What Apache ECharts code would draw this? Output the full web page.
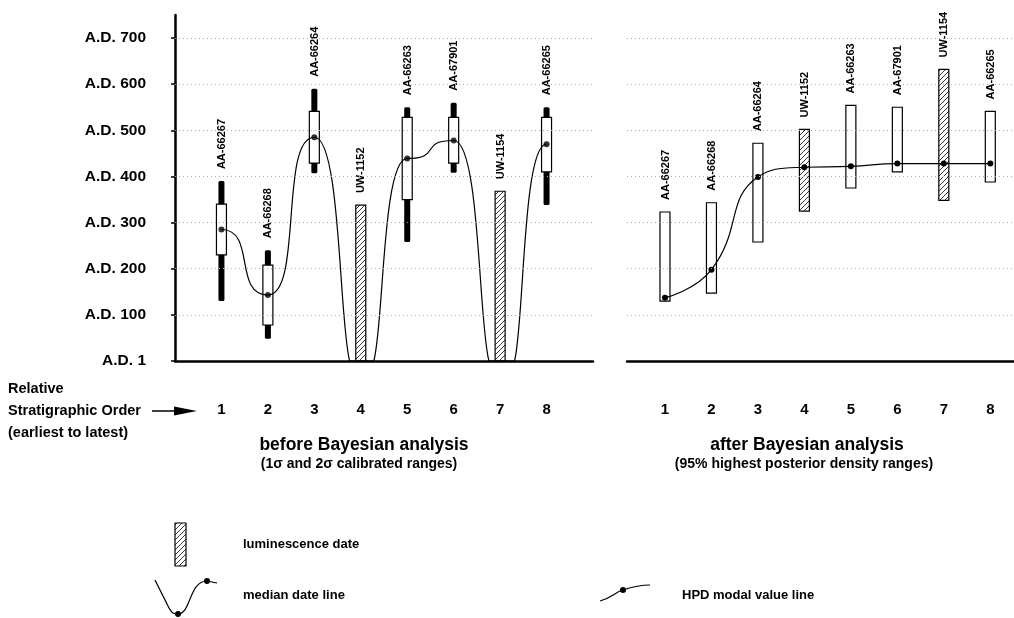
<!DOCTYPE html>
<html>
<head>
<meta charset="utf-8">
<script src="https://cdn.jsdelivr.net/npm/echarts@6/dist/echarts.min.js"></script>
<style>
html, body { margin: 0; padding: 0; background: #fff; }
#chart { width: 1014px; height: 618px; }
</style>
</head>
<body>
<div id="chart"></div>
<script>
// samples in stratigraphic order (earliest to latest)
var sampleNames = ['AA-66267', 'AA-66268', 'AA-66264', 'UW-1152', 'AA-66263', 'AA-67901', 'UW-1154', 'AA-66265'];
var orderLabels = ['1', '2', '3', '4', '5', '6', '7', '8'];
var isLuminescence = [false, false, false, true, false, false, true, false];
var yTickValues = [0, 100, 200, 300, 400, 500, 600, 700];
var yTickLabels = ['A.D. 1', 'A.D. 100', 'A.D. 200', 'A.D. 300', 'A.D. 400', 'A.D. 500', 'A.D. 600', 'A.D. 700'];

// before Bayesian analysis: 2 sigma (thick bar) and 1 sigma (box) calibrated ranges
var before2Lo = [130, 48, 407, null, 258, 408, null, 338];
var before2Hi = [390, 240, 590, null, 550, 560, null, 550];
var before1Lo = [230, 78, 429, null, 350, 429, null, 410];
var before1Hi = [340, 208, 541, null, 528, 528, null, 528];
var lumBeforeHi = [null, null, null, 338, null, null, 368, null];
var beforeMedian = [285, 143, 485, null, 439, 478, null, 470];
// median date line, with the points where it drops to the axis (value 0)
var medianLineX = [1, 2, 3, 3.76, 4.28, 5, 6, 6.76, 7.31, 8];
var medianLineY = [285, 143, 485, 0, 0, 439, 478, 0, 0, 470];

// after Bayesian analysis: 95% HPD ranges and modal values
var afterLo = [130, 147, 258, 325, 375, 410, 348, 388];
var afterHi = [323, 343, 472, 502, 554, 550, 632, 541];
var afterMode = [137, 198, 399, 420, 422, 428, 428, 428];

var FONT = '"Liberation Sans", Arial, Helvetica, sans-serif';

// diagonal hatching for luminescence dates
var hatch = document.createElement('canvas');
hatch.width = 5;
hatch.height = 5;
var hctx = hatch.getContext('2d');
hctx.strokeStyle = '#222';
hctx.lineWidth = 0.9;
hctx.beginPath();
hctx.moveTo(0, 5); hctx.lineTo(5, 0);
hctx.moveTo(-1, 1); hctx.lineTo(1, -1);
hctx.moveTo(4, 6); hctx.lineTo(6, 4);
hctx.stroke();
var hatchFill = {image: hatch, repeat: 'repeat'};

function sampleLabel(name, pt) {
    return {
        type: 'text',
        x: pt[0] + 0.5,
        y: pt[1] - 12,
        rotation: Math.PI / 2,
        style: {
            text: name,
            fill: '#000',
            font: 'bold 11px ' + FONT,
            align: 'left',
            verticalAlign: 'middle'
        }
    };
}

function renderBefore(params, api) {
    var i = params.dataIndex;
    var x = api.value(0);
    var children = [];
    var top;
    if (isLuminescence[i]) {
        top = api.coord([x, lumBeforeHi[i]]);
        var base = api.coord([x, 0]);
        children.push({
            type: 'rect',
            shape: {x: top[0] - 5, y: top[1], width: 10, height: base[1] - top[1]},
            style: {fill: hatchFill, stroke: '#000', lineWidth: 1.2}
        });
    } else {
        top = api.coord([x, before2Hi[i]]);
        var lo2 = api.coord([x, before2Lo[i]]);
        var hi1 = api.coord([x, before1Hi[i]]);
        var lo1 = api.coord([x, before1Lo[i]]);
        children.push({
            type: 'rect',
            shape: {x: top[0] - 3, y: top[1], width: 6, height: lo2[1] - top[1], r: 1.5},
            style: {fill: '#000'}
        });
        children.push({
            type: 'rect',
            shape: {x: hi1[0] - 5, y: hi1[1], width: 10, height: lo1[1] - hi1[1]},
            style: {fill: '#fff', stroke: '#000', lineWidth: 1.2}
        });
    }
    children.push(sampleLabel(sampleNames[i], top));
    return {type: 'group', children: children};
}

// median line: flat tangent at each median, steep where it meets the axis
function medianSlope(i, api) {
    if (medianLineY[i] !== 0) return 0;
    var a = api.coord([medianLineX[i - 1], medianLineY[i - 1]]);
    var b = api.coord([medianLineX[i + 1], medianLineY[i + 1]]);
    return (b[1] - a[1]) / (b[0] - a[0]);
}

function renderMedianSeg(params, api) {
    var i = params.dataIndex;
    var p0 = api.coord([medianLineX[i], medianLineY[i]]);
    var p1 = api.coord([medianLineX[i + 1], medianLineY[i + 1]]);
    var style = {fill: 'none', stroke: '#000', lineWidth: 1.2};
    if (medianLineY[i] === 0 && medianLineY[i + 1] === 0) {
        return {type: 'line', shape: {x1: p0[0], y1: p0[1], x2: p1[0], y2: p1[1]}, style: style};
    }
    var dx = p1[0] - p0[0];
    var s0 = medianSlope(i, api);
    var s1 = medianSlope(i + 1, api);
    var d0 = dx * (s0 === 0 ? 0.75 : 0.3);
    var d1 = dx * (s1 === 0 ? 0.75 : 0.3);
    return {
        type: 'bezierCurve',
        shape: {
            x1: p0[0], y1: p0[1],
            cpx1: p0[0] + d0, cpy1: p0[1] + s0 * d0,
            cpx2: p1[0] - d1, cpy2: p1[1] - s1 * d1,
            x2: p1[0], y2: p1[1]
        },
        style: style
    };
}

function renderAfter(params, api) {
    var i = params.dataIndex;
    var x = api.value(0);
    var hi = api.coord([x, afterHi[i]]);
    var lo = api.coord([x, afterLo[i]]);
    return {
        type: 'group',
        children: [{
            type: 'rect',
            shape: {x: hi[0] - 5, y: hi[1], width: 10, height: lo[1] - hi[1]},
            style: {fill: isLuminescence[i] ? hatchFill : '#fff', stroke: '#000', lineWidth: 1.2}
        }, sampleLabel(sampleNames[i], hi)]
    };
}

var gridLines = yTickValues.slice(1).map(function (v) { return {yAxis: v}; });
var gridLineMark = {
    silent: true,
    symbol: ['none', 'none'],
    label: {show: false},
    lineStyle: {type: [1, 3], color: '#a8a8a8', width: 1},
    data: gridLines
};

var orderX = orderLabels.map(function (l, i) { return i + 1; });

var myChart = echarts.init(document.getElementById('chart'), null, {renderer: 'canvas'});

function textEl(x, y, text, font, align) {
    return {
        type: 'text', x: x, y: y,
        style: {text: text, font: font, fill: '#000', align: align || 'left', verticalAlign: 'middle'}
    };
}

var option = {
    animation: false,
    backgroundColor: '#fff',
    grid: [
        {left: 175, top: 15, width: 418, height: 346},
        {left: 627, top: 15, width: 387, height: 346}
    ],
    xAxis: [{
        gridIndex: 0,
        type: 'value',
        min: 0,
        max: 9,
        axisLine: {lineStyle: {color: '#000', width: 2.5}},
        axisTick: {show: false},
        splitLine: {show: false},
        axisLabel: {
            customValues: orderX,
            formatter: function (v) { return orderLabels[v - 1]; },
            margin: 41,
            color: '#000',
            fontFamily: FONT,
            fontWeight: 'bold',
            fontSize: 15
        }
    }, {
        gridIndex: 1,
        type: 'value',
        min: 0.183,
        max: 8.51,
        axisLine: {lineStyle: {color: '#000', width: 2.5}},
        axisTick: {show: false},
        splitLine: {show: false},
        axisLabel: {
            customValues: orderX,
            formatter: function (v) { return orderLabels[v - 1]; },
            margin: 41,
            color: '#000',
            fontFamily: FONT,
            fontWeight: 'bold',
            fontSize: 15
        }
    }],
    yAxis: [{
        gridIndex: 0,
        type: 'value',
        min: 0,
        max: 750,
        axisLine: {show: true, lineStyle: {color: '#000', width: 2.5}},
        axisTick: {show: true, customValues: yTickValues, length: 4, lineStyle: {color: '#000', width: 1.5}},
        splitLine: {show: false},
        axisLabel: {
            customValues: yTickValues,
            formatter: function (v) { return yTickLabels[yTickValues.indexOf(v)]; },
            margin: 29,
            color: '#000',
            fontFamily: FONT,
            fontWeight: 'bold',
            fontSize: 15.5
        }
    }, {
        gridIndex: 1,
        type: 'value',
        min: 0,
        max: 750,
        axisLine: {show: false},
        axisTick: {show: false},
        axisLabel: {show: false},
        splitLine: {show: false}
    }],
    series: [{
        // before: ranges, luminescence bars and labels
        type: 'custom',
        xAxisIndex: 0,
        yAxisIndex: 0,
        renderItem: renderBefore,
        data: orderX.map(function (x) { return [x]; }),
        markLine: gridLineMark,
        z: 3
    }, {
        type: 'custom',
        xAxisIndex: 0,
        yAxisIndex: 0,
        renderItem: renderMedianSeg,
        encode: {x: [0, 2], y: [1, 3]},
        data: medianLineX.slice(0, -1).map(function (x, i) {
            return [x, medianLineY[i], medianLineX[i + 1], medianLineY[i + 1]];
        }),
        z: 4
    }, {
        type: 'scatter',
        xAxisIndex: 0,
        yAxisIndex: 0,
        data: beforeMedian.map(function (v, i) { return v === null ? null : [i + 1, v]; }).filter(Boolean),
        symbol: 'circle',
        symbolSize: 6,
        itemStyle: {color: '#000'},
        z: 5
    }, {
        // after: HPD ranges
        type: 'custom',
        xAxisIndex: 1,
        yAxisIndex: 1,
        renderItem: renderAfter,
        data: orderX.map(function (x) { return [x]; }),
        markLine: gridLineMark,
        z: 3
    }, {
        type: 'line',
        xAxisIndex: 1,
        yAxisIndex: 1,
        data: afterMode.map(function (v, i) { return [i + 1, v]; }),
        smooth: 0.5,
        symbol: 'circle',
        symbolSize: 6,
        itemStyle: {color: '#000'},
        lineStyle: {color: '#000', width: 1.2},
        z: 4
    }],
    graphic: [
        textEl(8, 389, 'Relative', 'bold 14.5px ' + FONT),
        textEl(8, 411, 'Stratigraphic Order', 'bold 14.5px ' + FONT),
        textEl(8, 433, '(earliest to latest)', 'bold 14.5px ' + FONT),
        {type: 'line', shape: {x1: 152, y1: 411, x2: 178, y2: 411}, style: {stroke: '#000', lineWidth: 1.5}},
        {type: 'polygon', shape: {points: [[174, 406.5], [197, 411], [174, 415.5]]}, style: {fill: '#000'}},

        textEl(364, 445, 'before Bayesian analysis', 'bold 17.5px ' + FONT, 'center'),
        textEl(359, 464, '(1σ and 2σ calibrated ranges)', 'bold 14px ' + FONT, 'center'),
        textEl(807, 445, 'after Bayesian analysis', 'bold 17.5px ' + FONT, 'center'),
        textEl(804, 464, '(95% highest posterior density ranges)', 'bold 14px ' + FONT, 'center'),

        // legend
        {type: 'rect', shape: {x: 175, y: 523, width: 11, height: 43}, style: {fill: hatchFill, stroke: '#000', lineWidth: 1.2}},
        textEl(243, 544, 'luminescence date', 'bold 13px ' + FONT),
        {type: 'line', shape: {x1: 155, y1: 580, x2: 168, y2: 606}, style: {stroke: '#000', lineWidth: 1.2}},
        {type: 'bezierCurve', shape: {x1: 168, y1: 606, cpx1: 172, cpy1: 614, cpx2: 174, cpy2: 614, x2: 178, y2: 614}, style: {fill: 'none', stroke: '#000', lineWidth: 1.2}},
        {type: 'bezierCurve', shape: {x1: 178, y1: 614, cpx1: 191, cpy1: 614, cpx2: 189, cpy2: 581, x2: 207, y2: 581}, style: {fill: 'none', stroke: '#000', lineWidth: 1.2}},
        {type: 'line', shape: {x1: 207, y1: 581, x2: 217, y2: 583}, style: {stroke: '#000', lineWidth: 1.2}},
        {type: 'circle', shape: {cx: 178, cy: 614, r: 3}, style: {fill: '#000'}},
        {type: 'circle', shape: {cx: 207, cy: 581, r: 3}, style: {fill: '#000'}},
        textEl(243, 595, 'median date line', 'bold 13px ' + FONT),
        {type: 'bezierCurve', shape: {x1: 600, y1: 601, cpx1: 612, cpy1: 598, cpx2: 615, cpy2: 592, x2: 623, y2: 590}, style: {fill: 'none', stroke: '#000', lineWidth: 1.2}},
        {type: 'bezierCurve', shape: {x1: 623, y1: 590, cpx1: 632, cpy1: 587, cpx2: 640, cpy2: 585, x2: 650, y2: 585}, style: {fill: 'none', stroke: '#000', lineWidth: 1.2}},
        {type: 'circle', shape: {cx: 623, cy: 590, r: 3}, style: {fill: '#000'}},
        textEl(682, 595, 'HPD modal value line', 'bold 13px ' + FONT)
    ]
};

myChart.setOption(option);
</script>
</body>
</html>
